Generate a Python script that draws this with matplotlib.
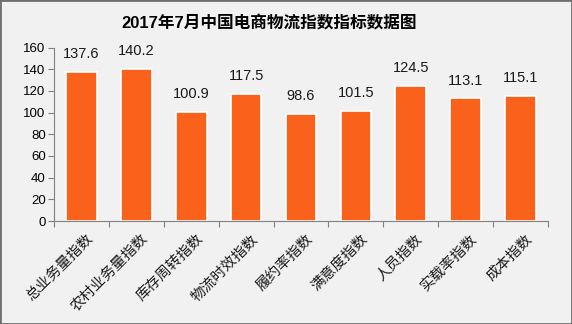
import matplotlib
matplotlib.use("Agg")
import matplotlib.pyplot as plt
from matplotlib.patches import Rectangle

categories = ["总业务量指数", "农村业务量指数", "库存周转指数", "物流时效指数", "履约率指数",
              "满意度指数", "人员指数", "实载率指数", "成本指数"]
values = [137.6, 140.2, 100.9, 117.5, 98.6, 101.5, 124.5, 113.1, 115.1]
yticks = [0, 20, 40, 60, 80, 100, 120, 140, 160]
title = "2017年7月中国电商物流指数指标数据图"

plt.rcParams['font.family'] = ['Liberation Sans', 'Noto Sans CJK SC', 'DejaVu Sans']

W, H = 572, 324
fig = plt.figure(figsize=(W/100, H/100), dpi=100)
fig.patch.set_facecolor('#F1F1F1')
fig.patches.append(Rectangle((0, 0), 1, 1, transform=fig.transFigure, fill=False,
                             edgecolor='#6F6F6F', linewidth=2))

ax = fig.add_axes([54/W, 1-221/H, (548-54)/W, (221-47.5)/H])
ax.set_facecolor('none')
x = list(range(len(categories)))
bars = ax.bar(x, values, width=0.56, color='#FA621C', edgecolor='white', linewidth=1.2)
for xi, v in zip(x, values):
    ax.text(xi, v + 10, f"{v}", ha='center', va='bottom', fontsize=10.5, color='#1a1a1a')

ax.set_xlim(-0.5, len(categories) - 0.5)
ax.set_ylim(0, 160)
ax.set_yticks(yticks)
ax.set_yticklabels([str(t) for t in yticks], fontsize=9.5)
ax.set_xticks([i - 0.5 for i in range(len(categories) + 1)])
ax.set_xticklabels([])
ax.tick_params(axis='x', length=4, color='#808080')
ax.tick_params(axis='y', length=4, color='#808080', pad=2)
for i, c in enumerate(categories):
    ax.text(i + 0.08, -10, c, rotation=45, ha='right', va='top', rotation_mode='anchor',
            fontsize=10.5, family=['Noto Sans CJK SC'], color='#1a1a1a')
for s in ['top', 'right']:
    ax.spines[s].set_visible(False)
for s in ['left', 'bottom']:
    ax.spines[s].set_color('#808080')

fig.text(269/W, 1-23/H, title, ha='center', va='center', fontsize=12, fontweight='bold',
         family=['Liberation Sans', 'Noto Sans CJK SC'])

fig.savefig('out.png', dpi=100, facecolor=fig.get_facecolor())
